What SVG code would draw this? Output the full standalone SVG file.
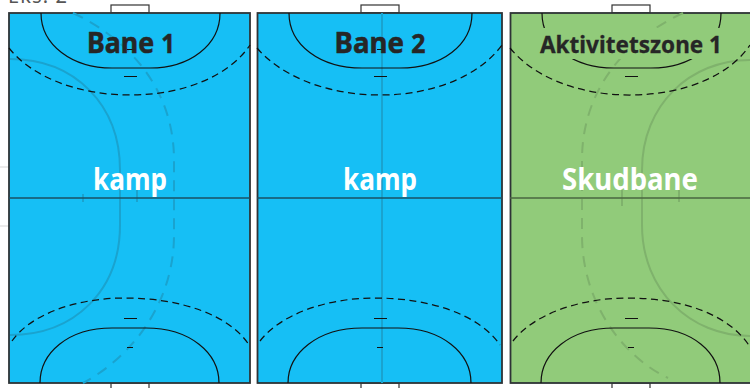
<svg xmlns="http://www.w3.org/2000/svg" width="750" height="388" viewBox="0 0 750 388">
<style>
.court{stroke:#2e3336;stroke-width:1.8}
.blue{fill:#16bff5}
.green{fill:#91cb7a}
.goal{fill:#fff;stroke:#333;stroke-width:1.2}
.line{fill:none;stroke:#111;stroke-width:1.2}
.dash{fill:none;stroke:#111;stroke-width:1.25;stroke-dasharray:7 4.5}
.mid{fill:none;stroke:#1a5164;stroke-width:1.6}
.midg{fill:none;stroke:#4a6640;stroke-width:1.6}
.fb{fill:none;stroke:#1aa3cf;stroke-width:2}
.fbd{fill:none;stroke:#1aa3cf;stroke-width:2;stroke-dasharray:11 8}
.fg{fill:none;stroke:#7fb26c;stroke-width:2}
.fgd{fill:none;stroke:#7fb26c;stroke-width:2;stroke-dasharray:11 8}
.t{font-family:"Noto Sans","Liberation Sans",sans-serif;font-weight:700;text-anchor:middle}
.title{fill:#262626;font-size:29px;stroke:#262626;stroke-width:.5}
.sub{fill:#fff;font-size:31px}
.az{font-size:24px;stroke-width:.3}
.n{font-size:26px}
</style>
<text x="8" y="3" font-family="Noto Sans, sans-serif" font-size="20" fill="#555" textLength="59">Eks. 2</text>
<path d="M0 167H9M0 226H9" stroke="#e4e4e4" stroke-width="1.4" fill="none"/>
<g id="court-1">
<rect class="goal" x="111" y="5" width="38" height="8"/>
<rect class="goal" x="111" y="383" width="38" height="8"/>
<rect class="court blue" x="9" y="13" width="241" height="370"/>
<path class="fb" d="M10 59C75 59 120 105 120 170V225C120 290 75 335 10 335"/>
<path class="fbd" d="M73 13C130 40 174 90 174 160V235C174 300 135 355 83 383"/>
<path class="fb" d="M83 194V202M137 190V202"/>
<path class="mid" d="M9 198H250"/>
<path class="line" d="M41 13C41 45 72 68 112 68H150C190 68 220 45 220 13"/>
<path class="dash" d="M9 48C30 75 75 95 130 95C185 95 230 75 250 45"/>
<path class="line" d="M124 76.500H137M127 49.500H133M124 318.500H137M127 347.500H133"/>
<path class="dash" d="M12 341C30 315 75 298 125 298C180 298 230 315 249 345"/>
<path class="line" d="M40 383C40 353 68 328 112 328H146C190 328 219 353 219 383"/>
<text class="t title" x="131" y="53" textLength="88" lengthAdjust="spacingAndGlyphs">Bane <tspan class="n">1</tspan></text>
<text class="t sub" x="130" y="190" textLength="74" lengthAdjust="spacingAndGlyphs">kamp</text>
</g>
<g id="court-2">
<rect class="goal" x="361" y="5" width="38" height="8"/>
<rect class="goal" x="361" y="383" width="38" height="8"/>
<rect class="court blue" x="257.500" y="13" width="244.500" height="370"/>
<path class="fb" d="M382 13V383"/>
<path class="mid" d="M257 198H502"/>
<path class="line" d="M289 13C289 45 320 68 362 68H400C442 68 472 45 472 13"/>
<path class="dash" d="M257 48C280 75 325 95 380 95C435 95 480 75 502 45"/>
<path class="line" d="M374 76.500H387M377 49.500H383M374 318.500H387M377 347.500H383"/>
<path class="dash" d="M260 341C280 315 325 298 375 298C430 298 480 315 500 345"/>
<path class="line" d="M288 383C288 353 318 328 362 328H398C442 328 471 353 471 383"/>
<text class="t title" x="380" y="53" textLength="91" lengthAdjust="spacingAndGlyphs">Bane <tspan class="n">2</tspan></text>
<text class="t sub" x="380" y="190" textLength="74" lengthAdjust="spacingAndGlyphs">kamp</text>
</g>
<g id="court-3">
<rect class="goal" x="612" y="5" width="38" height="8"/>
<rect class="goal" x="612" y="383" width="38" height="8"/>
<rect class="court green" x="510.500" y="13" width="241" height="370"/>
<path class="fg" d="M750 60C690 60 642 105 642 170V225C642 290 690 336 750 336"/>
<path class="fgd" d="M683 13C625 40 582 90 582 160V235C582 300 620 355 668 378"/>
<path class="fg" d="M622 190V206M679 190V202"/>
<path class="midg" d="M510 198H750"/>
<path class="line" d="M542 13C542 45 573 68 614 68H651C692 68 721 45 721 13"/>
<path class="dash" d="M510 48C532 75 575 95 630 95C685 95 730 75 750 45"/>
<path class="line" d="M625 76.500H638M625 318.500H638M628 347.500H634"/>
<path class="dash" d="M513 341C533 315 578 298 628 298C683 298 730 315 750 347"/>
<path class="line" d="M541 383C541 353 570 328 614 328H649C693 328 720 353 720 383"/>
<rect class="green" x="540" y="28" width="184" height="31"/>
<text class="t title az" x="631" y="53" textLength="182" lengthAdjust="spacingAndGlyphs">Aktivitetszone 1</text>
<text class="t sub" x="630" y="190" textLength="136" lengthAdjust="spacingAndGlyphs">Skudbane</text>
</g>
</svg>
